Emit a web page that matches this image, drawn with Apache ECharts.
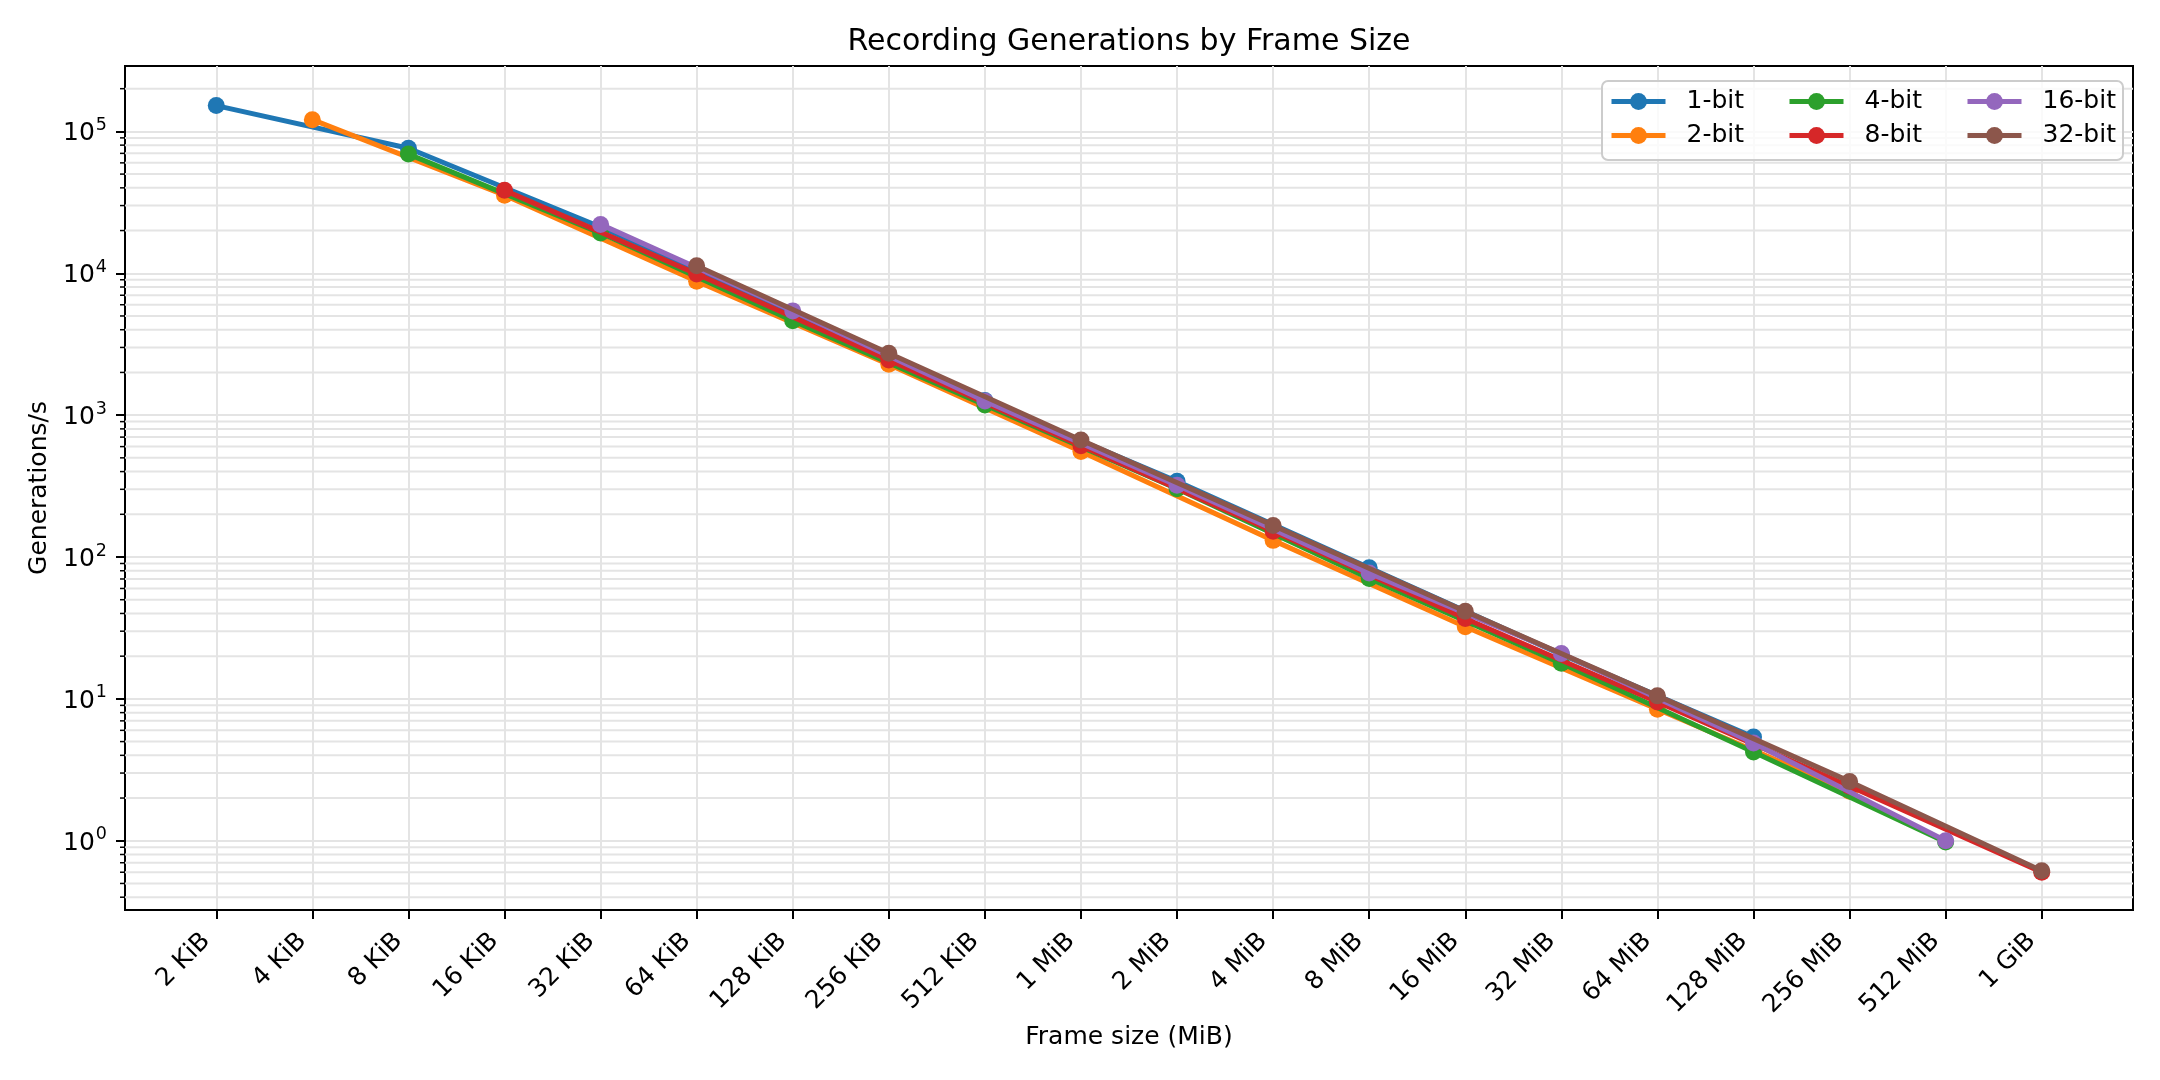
<!DOCTYPE html>
<html>
<head>
<meta charset="utf-8">
<title>Recording Generations by Frame Size</title>
<script src="https://cdn.jsdelivr.net/npm/echarts@6/dist/echarts.min.js"></script>
<style>
  html, body { margin: 0; padding: 0; background: #fff; }
  #chart { width: 2160px; height: 1080px; }
</style>
</head>
<body>
<div id="chart"></div>
<script>
// x axis categories (frame size)
var frameSizes = ['2 KiB', '4 KiB', '8 KiB', '16 KiB', '32 KiB', '64 KiB', '128 KiB', '256 KiB', '512 KiB',
  '1 MiB', '2 MiB', '4 MiB', '8 MiB', '16 MiB', '32 MiB', '64 MiB', '128 MiB', '256 MiB', '512 MiB', '1 GiB'];

// generations/s per bit depth, null where that depth has no run at that size
var gen1bit  = [1.52e5, null, 7.6e4, null, 2.12e4, null, 5.25e3, null, 1.27e3, null, 342, null, 84, null, 20.6, null, 5.38, null, null, null];
var gen2bit  = [null, 1.21e5, null, 3.55e4, null, 8.8e3, null, 2.28e3, null, 555, null, 131, null, 32.2, null, 8.46, null, 2.23, null, null];
var gen4bit  = [null, null, 6.92e4, null, 1.92e4, null, 4.63e3, null, 1.18e3, null, 303, null, 70.5, null, 17.8, null, 4.22, null, 0.98, null];
var gen8bit  = [null, null, null, 3.84e4, null, 9.9e3, null, 2.45e3, null, 608, null, 152, null, 36.9, null, 9.5, null, 2.42, null, 0.6];
var gen16bit = [null, null, null, null, 2.21e4, null, 5.43e3, null, 1.26e3, null, 320, null, 77, null, 20.9, null, 4.89, null, 1.0, null];
var gen32bit = [null, null, null, null, null, 1.13e4, null, 2.73e3, null, 667, null, 167, null, 41.5, null, 10.5, null, 2.62, null, 0.615];

var seriesNames = ['1-bit', '2-bit', '4-bit', '8-bit', '16-bit', '32-bit'];
var seriesData = [gen1bit, gen2bit, gen4bit, gen8bit, gen16bit, gen32bit];
var colors = ['#1f77b4', '#ff7f0e', '#2ca02c', '#d62728', '#9467bd', '#8c564b'];

var yMajor = [1, 10, 100, 1000, 10000, 100000];

var font = 'DejaVu Sans';
var gridColor = '#e4e4e4';

// minor log gridlines 2..9 x 10^n inside the axis range
var yMin = 0.325, yMax = 2.89e5;
var minorVals = [];
for (var e = -1; e <= 5; e++) {
  for (var m = 2; m <= 9; m++) {
    var v = m * Math.pow(10, e);
    if (v > yMin && v < yMax) minorVals.push([0, v]);
  }
}

var chart = echarts.init(document.getElementById('chart'));

var series = seriesNames.map(function (name, i) {
  var pts = [];
  seriesData[i].forEach(function (v, k) {
    if (v !== null) pts.push([k, v]);
  });
  return {
    name: name,
    type: 'line',
    data: pts,
    z: 3 + i,
    symbol: 'circle',
    symbolSize: 17,
    color: colors[i],
    lineStyle: { width: 5, color: colors[i] },
    itemStyle: { color: colors[i] },
    emphasis: { disabled: true }
  };
});

series.unshift({
  type: 'custom',
  silent: true,
  z: 1,
  data: minorVals,
  renderItem: function (params, api) {
    var cs = params.coordSys;
    var y = api.coord([0, api.value(1)])[1];
    return {
      type: 'group',
      children: [
        { type: 'line', shape: { x1: cs.x, y1: y, x2: cs.x + cs.width, y2: y },
          style: { stroke: gridColor, lineWidth: 2 } },
        { type: 'line', shape: { x1: cs.x - 5, y1: y, x2: cs.x, y2: y },
          style: { stroke: '#000', lineWidth: 1.5 } }
      ]
    };
  }
});

var legendCommon = {
  orient: 'vertical',
  top: 89,
  padding: 0,
  itemWidth: 54,
  itemHeight: 21,
  itemGap: 9,
  lineStyle: { width: 5 },
  textStyle: { fontFamily: font, fontSize: 25, color: '#000', lineHeight: 25, padding: [0, 0, 0, 16] }
};

chart.setOption({
  animation: false,
  backgroundColor: '#fff',
  title: {
    text: 'Recording Generations by Frame Size',
    left: 1129,
    top: 27,
    padding: 0,
    textAlign: 'center',
    textStyle: { fontFamily: font, fontSize: 30, fontWeight: 'normal', color: '#000' }
  },
  legend: [
    Object.assign({ data: ['1-bit', '2-bit'], left: 1609 }, legendCommon),
    Object.assign({ data: ['4-bit', '8-bit'], left: 1787 }, legendCommon),
    Object.assign({ data: ['16-bit', '32-bit'], left: 1965 }, legendCommon)
  ],
  graphic: [{
    type: 'rect',
    z: 3,
    shape: { x: 1602, y: 81, width: 521, height: 79, r: 6 },
    style: { fill: 'rgba(255,255,255,0.8)', stroke: '#cccccc', lineWidth: 2 }
  }],
  grid: {
    left: 125, right: 27, top: 66, bottom: 170,
    show: true, borderColor: '#000', borderWidth: 2,
    containLabel: false, outerBoundsMode: 'none'
  },
  xAxis: {
    type: 'value',
    min: -0.95,
    max: 19.95,
    name: 'Frame size (MiB)',
    nameLocation: 'middle',
    nameGap: 113,
    nameTextStyle: { fontFamily: font, fontSize: 25, color: '#000' },
    axisLine: { show: true, onZero: false, lineStyle: { color: '#000', width: 2 } },
    axisTick: { show: true, customValues: frameSizes.map(function (s, k) { return k; }), length: 9,
      lineStyle: { color: '#000', width: 2 } },
    axisLabel: {
      customValues: frameSizes.map(function (s, k) { return k; }),
      formatter: function (v) { return frameSizes[Math.round(v)]; },
      rotate: 45, margin: 17.5, padding: [0, 14, 0, 0],
      fontFamily: font, fontSize: 25, color: '#000'
    },
    splitLine: { show: true, lineStyle: { color: gridColor, width: 2 } }
  },
  yAxis: {
    type: 'log',
    logBase: 10,
    min: yMin,
    max: yMax,
    name: 'Generations/s',
    nameLocation: 'middle',
    nameGap: 71,
    nameTextStyle: { fontFamily: font, fontSize: 25, color: '#000' },
    axisLine: { show: true, onZero: false, lineStyle: { color: '#000', width: 2 } },
    axisTick: { show: true, customValues: yMajor, length: 9, lineStyle: { color: '#000', width: 2 } },
    axisLabel: {
      customValues: yMajor,
      margin: 18,
      formatter: function (v) {
        return '{b|10}{s|' + Math.round(Math.log10(v)) + '}';
      },
      rich: {
        b: { fontFamily: font, fontSize: 25, color: '#000', verticalAlign: 'bottom' },
        s: { fontFamily: font, fontSize: 17.5, color: '#000', verticalAlign: 'bottom', padding: [0, 0, 12, 1] }
      }
    },
    splitLine: { show: true, lineStyle: { color: gridColor, width: 2 } }
  },
  series: series
});
</script>
</body>
</html>
